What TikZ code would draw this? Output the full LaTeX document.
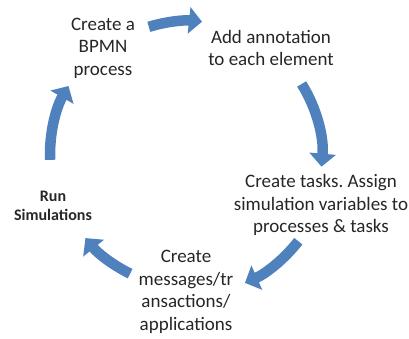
\documentclass[tikz,border=0pt]{standalone}
\usepackage{fontspec}
\setmainfont{Carlito}
\usetikzlibrary{positioning,arrows.meta}

\begin{document}
\frenchspacing
\begin{tikzpicture}[x=1pt, y=1pt,
    stage/.style={align=center, font=\fontsize{19}{22.5}\selectfont, text=black!85},
    runstage/.style={align=center, font=\fontsize{16}{19}\selectfont\bfseries, text=black!85},
    cycarrow/.style={draw=arrowblue, line width=10.5pt, -{Triangle[length=13pt, width=26pt]}}
]
\definecolor{arrowblue}{HTML}{4F81BD}
\useasboundingbox (0,0) rectangle (409,338);

% Steps
\node[stage] (bpmn) at (103,290) {Create a\\BPMN\\process};
\node[stage] (annot) at (271,290) {Add annotation\\to each element};
\node[stage] (tasks) at (321,133) {Create tasks. Assign\\simulation variables to\\processes \& tasks};
\node[stage] (msgs) at (186,46) {Create\\messages/tr\\ansactions/\\applications};
\node[runstage] (run) at (53,132) {Run\\Simulations};

% Cycle
\coordinate (hub) at (188,183);

% Arrows
\draw[cycarrow] ([shift={(107:134)}]hub) arc[start angle=107, end angle=84, radius=134];
\draw[cycarrow] ([shift={(32:134)}]hub) arc[start angle=32, end angle=-5, radius=134];
\draw[cycarrow] ([shift={(-38:140)}]hub) arc[start angle=-38, end angle=-66, radius=140];
\draw[cycarrow] ([shift={(-116:132)}]hub) arc[start angle=-116, end angle=-141, radius=132];
\draw[cycarrow] ([shift={(182:138)}]hub) arc[start angle=182, end angle=150, radius=138];

\end{tikzpicture}
\end{document}
